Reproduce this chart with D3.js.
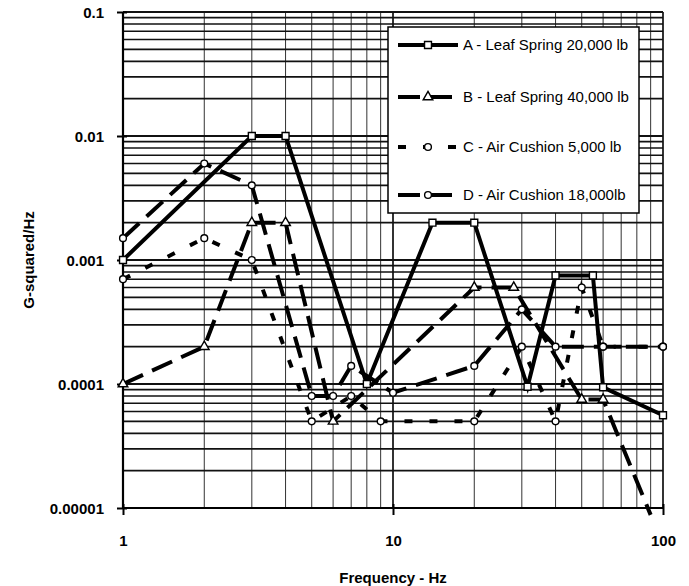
<!DOCTYPE html>
<html>
<head>
<meta charset="utf-8">
<script src="https://cdn.jsdelivr.net/npm/d3@7"></script>
<style>
  body { margin: 0; background: #fff; }
  text { font-family: "Liberation Sans", Arial, sans-serif; }
</style>
</head>
<body>
<div id="chart"></div>
<script>
// values (log-log)
var seriesNames = ["A - Leaf Spring 20,000 lb", "B - Leaf Spring 40,000 lb", "C - Air Cushion 5,000 lb", "D - Air Cushion 18,000lb"];

var freqA = [1, 3, 4, 8, 14, 20, 31.5, 40, 55, 60, 100];
var valA  = [0.001, 0.01, 0.01, 0.0001, 0.002, 0.002, 0.000095, 0.00075, 0.00075, 0.000094, 0.000056];

var freqB = [1, 2, 3, 4, 6, 20, 28, 50, 60, 90];
var valB  = [0.0001, 0.0002, 0.002, 0.002, 0.00005, 0.0006, 0.0006, 0.000075, 0.000075, 0.0000088];

var freqC = [1, 2, 3, 5, 7, 9, 20, 30, 40, 50, 60, 100];
var valC  = [0.0007, 0.0015, 0.001, 0.00005, 0.00008, 0.00005, 0.00005, 0.0002, 0.00005, 0.0006, 0.0002, 0.0002];

var freqD = [1, 2, 3, 5, 6, 7, 10, 20, 30, 40, 60, 100];
var valD  = [0.0015, 0.006, 0.004, 0.00008, 0.00008, 0.00014, 0.000085, 0.00014, 0.0004, 0.0002, 0.0002, 0.0002];

var xTicks = [1, 10, 100];
var xTickLabels = ["1", "10", "100"];
var yTicks = [0.1, 0.01, 0.001, 0.0001, 0.00001];
var yTickLabels = ["0.1", "0.01", "0.001", "0.0001", "0.00001"];

var W = 689, H = 586;
var margin = {top: 12, right: 26, bottom: 78, left: 123};
var width = W - margin.left - margin.right,
    height = H - margin.top - margin.bottom;

var svg = d3.select("#chart").append("svg")
    .attr("width", W).attr("height", H);
var g = svg.append("g").attr("transform", "translate(" + margin.left + "," + margin.top + ")");

var x = d3.scaleLog().domain([1, 100]).range([0, width]);
var y = d3.scaleLog().domain([0.00001, 0.1]).range([height, 0]);

// grid
g.append("g").selectAll("line").data(x.ticks())
  .enter().append("line")
    .attr("x1", function(d) { return x(d); }).attr("x2", function(d) { return x(d); })
    .attr("y1", 0).attr("y2", height)
    .attr("stroke", "#333")
    .attr("stroke-width", function(d) { return xTicks.indexOf(d) >= 0 ? 2 : 1; });

g.append("g").selectAll("line").data(y.ticks())
  .enter().append("line")
    .attr("x1", 0).attr("x2", width)
    .attr("y1", function(d) { return y(d); }).attr("y2", function(d) { return y(d); })
    .attr("stroke", "#111")
    .attr("stroke-width", function(d) { return yTicks.some(function(t) { return Math.abs(t - d) / t < 1e-6; }) ? 2 : 1.6; });

// axes (frame + crossing ticks)
g.append("line").attr("x1", 0).attr("x2", 0).attr("y1", 0).attr("y2", height)
  .attr("stroke", "#000").attr("stroke-width", 2.2);
g.append("line").attr("x1", 0).attr("x2", width).attr("y1", height).attr("y2", height)
  .attr("stroke", "#000").attr("stroke-width", 2.2);

var yAxis = d3.axisLeft(y).tickValues(yTicks).tickSize(6)
    .tickFormat(function(d, i) { return yTickLabels[i]; });
g.append("g").call(yAxis)
  .call(function(a) {
    a.select(".domain").remove();
    a.selectAll(".tick line").attr("stroke", "#000").attr("stroke-width", 2).attr("x2", -6).attr("x1", 4);
    a.selectAll(".tick text").attr("x", -19).attr("dy", "0.36em")
      .style("font-size", "15px").style("font-weight", "bold").attr("fill", "#000");
  });

var xAxis = d3.axisBottom(x).tickValues(xTicks).tickSize(6)
    .tickFormat(function(d, i) { return xTickLabels[i]; });
g.append("g").attr("transform", "translate(0," + height + ")").call(xAxis)
  .call(function(a) {
    a.select(".domain").remove();
    a.selectAll(".tick line").attr("stroke", "#000").attr("stroke-width", 2).attr("y1", -4).attr("y2", 7);
    a.selectAll(".tick text").attr("y", 33).attr("dy", "0.36em")
      .style("font-size", "15px").style("font-weight", "bold").attr("fill", "#000");
  });

svg.append("text")
    .attr("transform", "translate(34," + (margin.top + height / 2) + ") rotate(-90)")
    .attr("text-anchor", "middle")
    .style("font-size", "15px").style("font-weight", "bold")
    .text("G-squared/Hz");

svg.append("text")
    .attr("x", margin.left + width / 2).attr("y", 583)
    .attr("text-anchor", "middle")
    .style("font-size", "15px").style("font-weight", "bold")
    .text("Frequency - Hz");

// series
var series = [
  {name: seriesNames[0], f: freqA, v: valA, dash: null, marker: "square"},
  {name: seriesNames[1], f: freqB, v: valB, dash: "22,10", marker: "triangle"},
  {name: seriesNames[2], f: freqC, v: valC, dash: "8,17", marker: "circle"},
  {name: seriesNames[3], f: freqD, v: valD, dash: "22,10", marker: "circle"}
];
series.forEach(function(s) {
  s.points = s.f.map(function(f, i) { return {f: f, v: s.v[i]}; });
});

var line = d3.line()
    .x(function(d) { return x(d.f); })
    .y(function(d) { return y(d.v); });

var symbols = {
  square: d3.symbol().type(d3.symbolSquare).size(48),
  triangle: d3.symbol().type(d3.symbolTriangle).size(40),
  circle: d3.symbol().type(d3.symbolCircle).size(36)
};

var sg = g.selectAll(".series").data(series).enter().append("g").attr("class", "series");

sg.append("path")
    .attr("d", function(d) { return line(d.points); })
    .attr("fill", "none")
    .attr("stroke", "#000")
    .attr("stroke-width", 4)
    .attr("stroke-dasharray", function(d) { return d.dash; });

sg.each(function(s) {
  d3.select(this).selectAll("path.mk").data(s.points.filter(function(p) { return p.v >= 0.00001; }))
    .enter().append("path")
      .attr("class", "mk")
      .attr("transform", function(p) { return "translate(" + x(p.f) + "," + y(p.v) + ")"; })
      .attr("d", symbols[s.marker])
      .attr("fill", "#fff")
      .attr("stroke", "#000")
      .attr("stroke-width", 1.4);
});

// legend
var lg = svg.append("g").attr("transform", "translate(388,27)");
lg.append("rect").attr("width", 251).attr("height", 186)
  .attr("fill", "#fff").attr("stroke", "#000").attr("stroke-width", 1.5);

var rows = [18, 70, 120, 168];
var le = lg.selectAll(".le").data(series).enter().append("g")
    .attr("transform", function(d, i) { return "translate(0," + rows[i] + ")"; });
le.append("line").attr("x1", 10).attr("x2", 70).attr("y1", 0).attr("y2", 0)
  .attr("stroke", "#000").attr("stroke-width", 4)
  .attr("stroke-dasharray", function(d) { return d.dash; });
le.append("path")
  .attr("transform", "translate(40,0)")
  .attr("d", function(d) { return symbols[d.marker](); })
  .attr("fill", "#fff").attr("stroke", "#000").attr("stroke-width", 1.4);
le.append("text").attr("x", 75).attr("y", 0).attr("dy", "0.36em")
  .style("font-size", "15px")
  .text(function(d) { return d.name; });
</script>
</body>
</html>
